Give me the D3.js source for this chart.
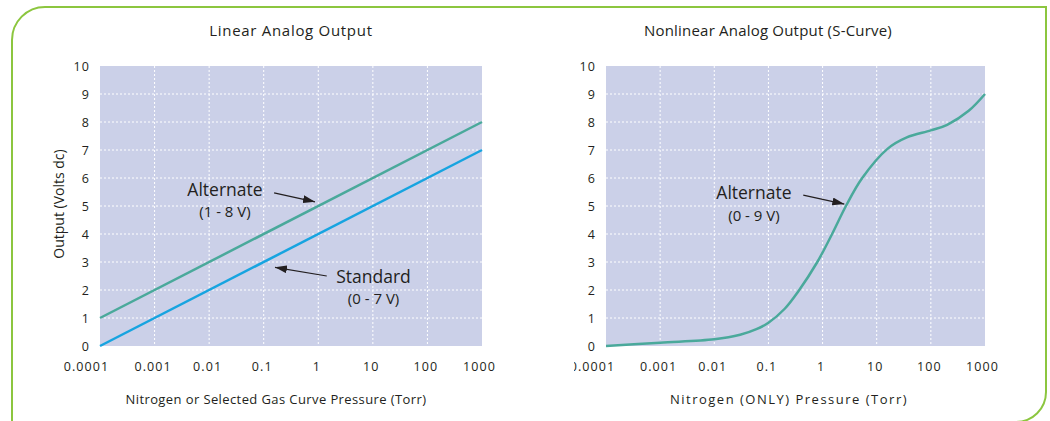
<!DOCTYPE html>
<html>
<head>
<meta charset="utf-8">
<script src="https://cdn.jsdelivr.net/npm/d3@7"></script>
<style>
  body { margin: 0; background: #fff; }
  svg text { font-family: "Open Sans", sans-serif; fill: #231f20; }
  .tick text { font-size: 12.5px; letter-spacing: 1.1px; }
  .grid line { stroke: #fff; stroke-width: 1; stroke-dasharray: 2,2; }
</style>
</head>
<body>
<svg width="1050" height="421"></svg>
<script>
// pressure decades (Torr) and their labels
var decades = [1e-4, 1e-3, 1e-2, 1e-1, 1, 10, 100, 1000];
var decadeLabels = ["0.0001", "0.001", "0.01", "0.1", "1", "10", "100", "1000"];
var volts = [0, 1, 2, 3, 4, 5, 6, 7, 8, 9, 10];

// linear output: straight lines across the whole range
var linearPressure = [1e-4, 1000];
var alternateLinear = [1, 8];
var standardLinear = [0, 7];

// nonlinear S-curve
var sPressure = [1e-4, 1e-3, 1e-2, 0.03, 0.06, 0.1, 0.2, 0.35, 0.8, 1.5, 2.7, 5.4, 16, 36, 100, 200, 500, 1000];
var sVolts    = [0, 0.12, 0.24, 0.4, 0.6, 0.83, 1.33, 1.93, 3.0, 4.0, 5.0, 6.0, 7.05, 7.45, 7.7, 7.9, 8.4, 9.0];

var svg = d3.select("svg");

var green = "#8cc63f", teal = "#4aa99b", blue = "#17a4e0", plotBg = "#cbd0e8";

// frame round both charts
svg.append("path")
    .attr("d", "M12,430 V40 A33,33 0 0 1 45,7 H1046 V392 A30,30 0 0 1 1016,422")
    .attr("fill", "none")
    .attr("stroke", green)
    .attr("stroke-width", 2);

var defs = svg.append("defs");
defs.append("marker")
    .attr("id", "arrow")
    .attr("viewBox", "0 0 12 8")
    .attr("refX", 12).attr("refY", 4)
    .attr("markerWidth", 12).attr("markerHeight", 8)
    .attr("markerUnits", "userSpaceOnUse")
    .attr("orient", "auto")
  .append("path")
    .attr("d", "M0,0 L12,4 L0,8 Z")
    .attr("fill", "#231f20");

defs.append("clipPath").attr("id", "rclip")
  .append("rect").attr("x", 574).attr("y", 0).attr("width", 476).attr("height", 421);

function panel(opts) {
  var x = d3.scaleLog().domain([1e-4, 1000]).range(opts.xr);
  var y = d3.scaleLinear().domain([0, 10]).range([346, 66]);
  var g = svg.append("g");
  if (opts.clip) g.attr("clip-path", "url(#rclip)");

  g.append("rect")
      .attr("x", x.range()[0]).attr("y", y(10))
      .attr("width", x.range()[1] - x.range()[0])
      .attr("height", y(0) - y(10))
      .attr("fill", plotBg);

  var grid = g.append("g").attr("class", "grid");
  grid.selectAll(".v").data(decades.slice(1, -1)).enter().append("line")
      .attr("x1", d => x(d)).attr("x2", d => x(d))
      .attr("y1", y(10)).attr("y2", y(0));
  grid.selectAll(".h").data(volts.slice(1, -1)).enter().append("line")
      .attr("x1", x.range()[0]).attr("x2", x.range()[1])
      .attr("y1", d => y(d)).attr("y2", d => y(d));

  var yAxis = g.append("g")
      .attr("transform", "translate(" + (x.range()[0] - 10) + ",0)")
      .call(d3.axisLeft(y).tickValues(volts).tickSize(0).tickPadding(0).tickFormat(d3.format("d")));
  yAxis.select(".domain").remove();
  yAxis.selectAll("text").attr("font-size", null);

  var xAxis = g.append("g")
      .attr("transform", "translate(0," + (y(0) + 16) + ")")
      .call(d3.axisBottom(x).tickValues(decades).tickSize(0).tickPadding(0)
        .tickFormat((d, i) => decadeLabels[i]));
  xAxis.select(".domain").remove();
  xAxis.selectAll("text").attr("font-size", null)
      .attr("dx", (d, i) => i === 0 ? -14 : (i === decades.length - 1 ? -3 : -2));

  g.append("text")
      .attr("x", opts.titleX).attr("y", 36)
      .attr("text-anchor", "middle")
      .attr("font-size", 15)
      .attr("letter-spacing", opts.titleSpacing)
      .text(opts.title);

  g.append("text")
      .attr("x", opts.xTitleX).attr("y", 404)
      .attr("text-anchor", "middle")
      .attr("font-size", 13)
      .attr("letter-spacing", opts.xTitleSpacing)
      .text(opts.xTitle);

  var line = d3.line()
      .x(d => x(d[0])).y(d => y(d[1]))
      .curve(opts.curve || d3.curveLinear);

  opts.series.forEach(function(s) {
    g.append("path")
        .datum(d3.zip(s.p, s.v))
        .attr("fill", "none")
        .attr("stroke", s.color)
        .attr("stroke-width", 2.5)
        .attr("d", line);
  });

  opts.notes.forEach(function(n) {
    g.append("line")
        .attr("x1", x(n.tail[0])).attr("y1", y(n.tail[1]))
        .attr("x2", x(n.tip[0])).attr("y2", y(n.tip[1]))
        .attr("stroke", "#231f20").attr("stroke-width", 1.2)
        .attr("marker-end", "url(#arrow)");
    g.append("text")
        .attr("x", x(n.at[0])).attr("y", y(n.at[1]))
        .attr("text-anchor", "middle")
        .attr("font-size", 17.5)
        .text(n.label);
    g.append("text")
        .attr("x", x(n.at[0])).attr("y", y(n.at[1]) + 21.5)
        .attr("text-anchor", "middle")
        .attr("font-size", 15)
        .text(n.range);
  });
  return {x: x, y: y};
}

panel({
  xr: [100, 482],
  title: "Linear Analog Output", titleX: 291, titleSpacing: 0.7,
  xTitle: "Nitrogen or Selected Gas Curve Pressure (Torr)", xTitleX: 276, xTitleSpacing: 0.4,
  series: [
    {p: linearPressure, v: alternateLinear, color: teal},
    {p: linearPressure, v: standardLinear, color: blue}
  ],
  notes: [
    {label: "Alternate", range: "(1 - 8 V)", at: [0.0195, 5.36], tail: [0.155, 5.47], tip: [0.87, 5.15]},
    {label: "Standard", range: "(0 - 7 V)", at: [10.3, 2.26], tail: [1.43, 2.5], tip: [0.161, 2.81]}
  ]
});

panel({
  xr: [606, 985], clip: true,
  title: "Nonlinear Analog Output (S-Curve)", titleX: 768, titleSpacing: 0.2,
  xTitle: "Nitrogen (ONLY) Pressure (Torr)", xTitleX: 789, xTitleSpacing: 1.5,
  curve: d3.curveCatmullRom.alpha(0.5),
  series: [{p: sPressure, v: sVolts, color: teal}],
  notes: [
    {label: "Alternate", range: "(0 - 9 V)", at: [0.054, 5.24], tail: [0.44, 5.39], tip: [2.52, 5.07]}
  ]
});

// y axis title, left chart
svg.append("text")
    .attr("transform", "translate(64,204) rotate(-90)")
    .attr("text-anchor", "middle")
    .attr("font-size", 14)
    .text("Output (Volts dc)");
</script>
</body>
</html>
